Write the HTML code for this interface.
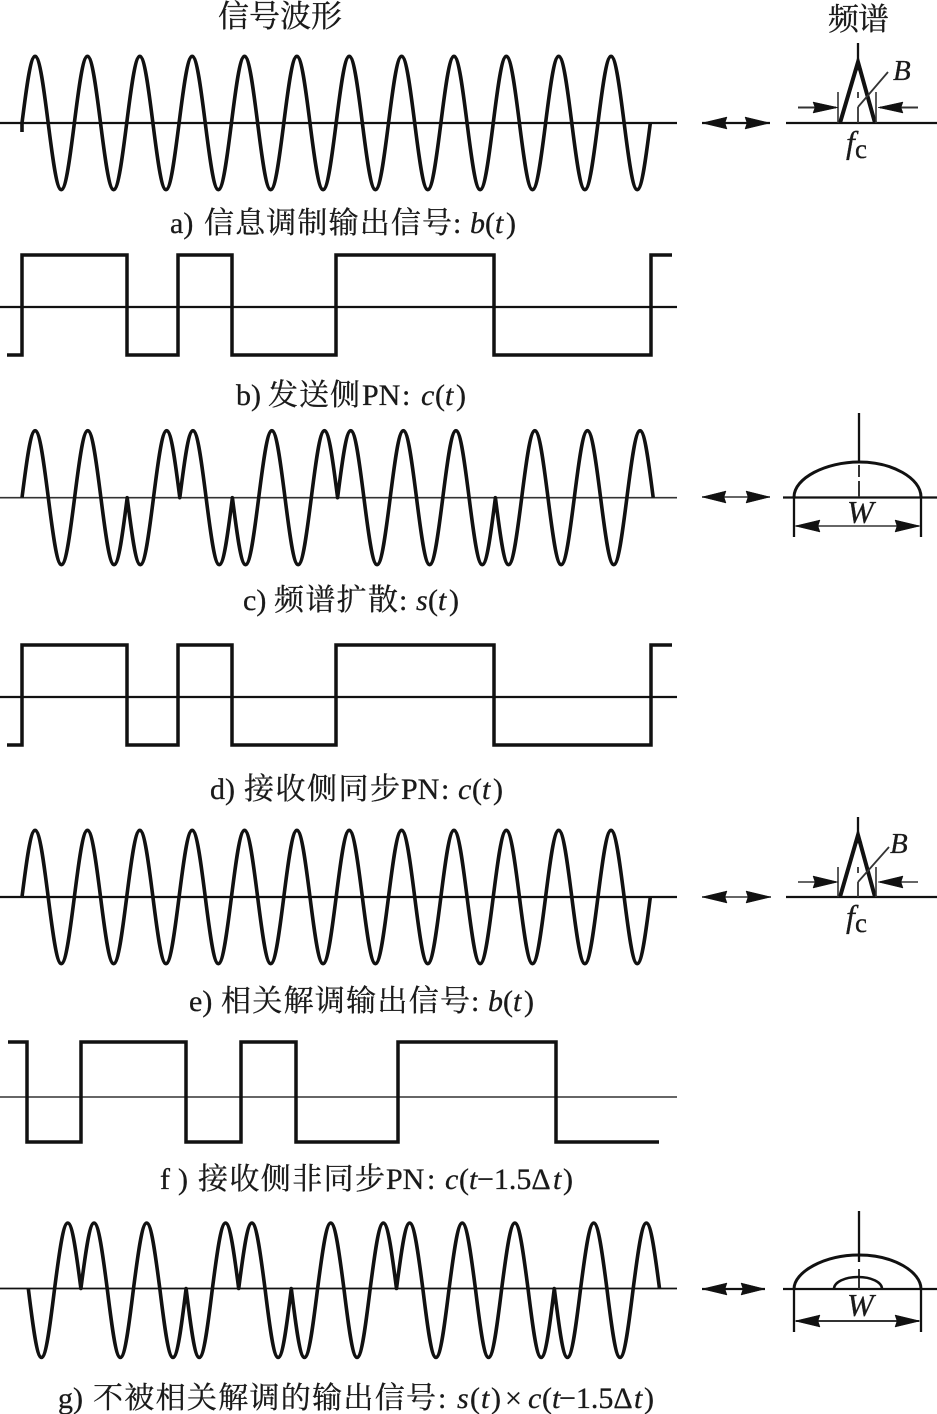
<!DOCTYPE html>
<html><head><meta charset="utf-8"><style>
html,body{margin:0;padding:0;background:#fff}
svg{display:block}
text{font-family:"Liberation Serif","Noto Serif CJK SC",serif;font-size:30px;fill:#1a1a1a;stroke:#1a1a1a;stroke-width:.3}
.i{font-style:italic}
.w{fill:none;stroke:#111;stroke-width:3.6;stroke-linejoin:round}
.s{fill:none;stroke:#111;stroke-width:3.5;stroke-linejoin:miter}
.ax{stroke:#111;stroke-width:2.3;fill:none}
.th{stroke:#333;stroke-width:1.6;fill:none}
.sp{fill:none;stroke:#111;stroke-width:4}
polygon{fill:#111;stroke:#111;stroke-width:.5}
</style></head><body>
<svg width="937" height="1414" viewBox="0 0 937 1414" xmlns="http://www.w3.org/2000/svg">
<rect width="937" height="1414" fill="#fff"/>

<!-- titles -->
<text x="218" y="27" textLength="124" style="font-size:31px">信号波形</text>
<text x="828" y="30" textLength="61" style="font-size:31px">频谱</text>

<!-- a -->
<line class="ax" x1="0" y1="123" x2="677" y2="123"/>
<path class="w" d="M22 132V123
c4.3-34.2 8.4-66.7 13.09-66.7s8.79 32.5 13.09 66.7c4.3 34.2 8.4 66.7 13.09 66.7s8.79-32.5 13.09-66.7
c4.3-34.2 8.4-66.7 13.09-66.7s8.79 32.5 13.09 66.7c4.3 34.2 8.4 66.7 13.09 66.7s8.79-32.5 13.09-66.7
c4.3-34.2 8.4-66.7 13.09-66.7s8.79 32.5 13.09 66.7c4.3 34.2 8.4 66.7 13.09 66.7s8.79-32.5 13.09-66.7
c4.3-34.2 8.4-66.7 13.09-66.7s8.79 32.5 13.09 66.7c4.3 34.2 8.4 66.7 13.09 66.7s8.79-32.5 13.09-66.7
c4.3-34.2 8.4-66.7 13.09-66.7s8.79 32.5 13.09 66.7c4.3 34.2 8.4 66.7 13.09 66.7s8.79-32.5 13.09-66.7
c4.3-34.2 8.4-66.7 13.09-66.7s8.79 32.5 13.09 66.7c4.3 34.2 8.4 66.7 13.09 66.7s8.79-32.5 13.09-66.7
c4.3-34.2 8.4-66.7 13.09-66.7s8.79 32.5 13.09 66.7c4.3 34.2 8.4 66.7 13.09 66.7s8.79-32.5 13.09-66.7
c4.3-34.2 8.4-66.7 13.09-66.7s8.79 32.5 13.09 66.7c4.3 34.2 8.4 66.7 13.09 66.7s8.79-32.5 13.09-66.7
c4.3-34.2 8.4-66.7 13.09-66.7s8.79 32.5 13.09 66.7c4.3 34.2 8.4 66.7 13.09 66.7s8.79-32.5 13.09-66.7
c4.3-34.2 8.4-66.7 13.09-66.7s8.79 32.5 13.09 66.7c4.3 34.2 8.4 66.7 13.09 66.7s8.79-32.5 13.09-66.7
c4.3-34.2 8.4-66.7 13.09-66.7s8.79 32.5 13.09 66.7c4.3 34.2 8.4 66.7 13.09 66.7s8.79-32.5 13.09-66.7
c4.3-34.2 8.4-66.7 13.09-66.7s8.79 32.5 13.09 66.7c4.3 34.2 8.4 66.7 13.09 66.7s8.79-32.5 13.09-66.7"/>
<text x="170" y="233">a)</text>
<text x="204" y="233" textLength="248">信息调制输出信号</text>
<text x="453" y="233">:</text>
<text x="470" y="233" class="i">b</text><text x="485" y="233">(</text><text x="495" y="233" class="i">t</text><text x="506" y="233">)</text>

<!-- b -->
<line class="ax" x1="0" y1="307" x2="677" y2="307"/>
<path class="s" d="M7 355H22V255H127V355H178V255H232V355H336V255H494V355H651V255H672"/>
<text x="236" y="405">b)</text>
<text x="268" y="405" textLength="92">发送侧</text>
<text x="362" y="405">PN</text>
<text x="402" y="405">:</text>
<text x="421" y="405" class="i">c</text><text x="435" y="405">(</text><text x="445" y="405" class="i">t</text><text x="456" y="405">)</text>

<!-- c -->
<line class="th" x1="0" y1="497.7" x2="677" y2="497.7"/>
<path class="w" d="M22 497.7
c4.3-34 8.4-67 13.15-67s8.85 33 13.15 67c4.3 34 8.4 67 13.15 67s8.85-33 13.15-67
c4.3-34 8.4-67 13.15-67s8.85 33 13.15 67c4.3 34 8.4 67 13.15 67s8.85-33 13.15-67
c4.3 34 8.4 67 13.15 67s8.85-33 13.15-67c4.3-34 8.4-67 13.15-67s8.85 33 13.15 67
c4.3-34 8.4-67 13.15-67s8.85 33 13.15 67c4.3 34 8.4 67 13.15 67s8.85-33 13.15-67
c4.3 34 8.4 67 13.15 67s8.85-33 13.15-67c4.3-34 8.4-67 13.15-67s8.85 33 13.15 67
c4.3 34 8.4 67 13.15 67s8.85-33 13.15-67c4.3-34 8.4-67 13.15-67s8.85 33 13.15 67
c4.3-34 8.4-67 13.15-67s8.85 33 13.15 67c4.3 34 8.4 67 13.15 67s8.85-33 13.15-67
c4.3-34 8.4-67 13.15-67s8.85 33 13.15 67c4.3 34 8.4 67 13.15 67s8.85-33 13.15-67
c4.3-34 8.4-67 13.15-67s8.85 33 13.15 67c4.3 34 8.4 67 13.15 67s8.85-33 13.15-67
c4.3 34 8.4 67 13.15 67s8.85-33 13.15-67c4.3-34 8.4-67 13.15-67s8.85 33 13.15 67
c4.3 34 8.4 67 13.15 67s8.85-33 13.15-67c4.3-34 8.4-67 13.15-67s8.85 33 13.15 67
c4.3 34 8.4 67 13.15 67s8.85-33 13.15-67c4.3-34 8.4-67 13.15-67s8.85 33 13.15 67"/>
<text x="243" y="610">c)</text>
<text x="274" y="610" textLength="124">频谱扩散</text>
<text x="399" y="610">:</text>
<text x="416" y="610" class="i">s</text><text x="428" y="610">(</text><text x="438" y="610" class="i">t</text><text x="449" y="610">)</text>

<!-- d -->
<line class="ax" x1="0" y1="697" x2="677" y2="697"/>
<path class="s" d="M7 745H22V645H127V745H178V645H232V745H336V645H494V745H651V645H672"/>
<text x="210" y="799">d)</text>
<text x="244" y="799" textLength="156">接收侧同步</text>
<text x="401" y="799">PN</text>
<text x="441" y="799">:</text>
<text x="458" y="799" class="i">c</text><text x="472" y="799">(</text><text x="482" y="799" class="i">t</text><text x="493" y="799">)</text>

<!-- e -->
<line class="ax" x1="0" y1="897" x2="677" y2="897"/>
<path class="w" d="M22 897
c4.3-34.2 8.4-66.7 13.09-66.7s8.79 32.5 13.09 66.7c4.3 34.2 8.4 66.7 13.09 66.7s8.79-32.5 13.09-66.7
c4.3-34.2 8.4-66.7 13.09-66.7s8.79 32.5 13.09 66.7c4.3 34.2 8.4 66.7 13.09 66.7s8.79-32.5 13.09-66.7
c4.3-34.2 8.4-66.7 13.09-66.7s8.79 32.5 13.09 66.7c4.3 34.2 8.4 66.7 13.09 66.7s8.79-32.5 13.09-66.7
c4.3-34.2 8.4-66.7 13.09-66.7s8.79 32.5 13.09 66.7c4.3 34.2 8.4 66.7 13.09 66.7s8.79-32.5 13.09-66.7
c4.3-34.2 8.4-66.7 13.09-66.7s8.79 32.5 13.09 66.7c4.3 34.2 8.4 66.7 13.09 66.7s8.79-32.5 13.09-66.7
c4.3-34.2 8.4-66.7 13.09-66.7s8.79 32.5 13.09 66.7c4.3 34.2 8.4 66.7 13.09 66.7s8.79-32.5 13.09-66.7
c4.3-34.2 8.4-66.7 13.09-66.7s8.79 32.5 13.09 66.7c4.3 34.2 8.4 66.7 13.09 66.7s8.79-32.5 13.09-66.7
c4.3-34.2 8.4-66.7 13.09-66.7s8.79 32.5 13.09 66.7c4.3 34.2 8.4 66.7 13.09 66.7s8.79-32.5 13.09-66.7
c4.3-34.2 8.4-66.7 13.09-66.7s8.79 32.5 13.09 66.7c4.3 34.2 8.4 66.7 13.09 66.7s8.79-32.5 13.09-66.7
c4.3-34.2 8.4-66.7 13.09-66.7s8.79 32.5 13.09 66.7c4.3 34.2 8.4 66.7 13.09 66.7s8.79-32.5 13.09-66.7
c4.3-34.2 8.4-66.7 13.09-66.7s8.79 32.5 13.09 66.7c4.3 34.2 8.4 66.7 13.09 66.7s8.79-32.5 13.09-66.7
c4.3-34.2 8.4-66.7 13.09-66.7s8.79 32.5 13.09 66.7c4.3 34.2 8.4 66.7 13.09 66.7s8.79-32.5 13.09-66.7"/>
<text x="189" y="1011">e)</text>
<text x="221" y="1011" textLength="249">相关解调输出信号</text>
<text x="471" y="1011">:</text>
<text x="488" y="1011" class="i">b</text><text x="503" y="1011">(</text><text x="513" y="1011" class="i">t</text><text x="524" y="1011">)</text>

<!-- f -->
<line class="th" x1="0" y1="1097" x2="677" y2="1097"/>
<path class="s" d="M8 1042H27V1142H81V1042H186V1142H241V1042H296V1142H398V1042H556V1142H659"/>
<text x="160" y="1189">f</text><text x="178" y="1189">)</text>
<text x="198" y="1189" textLength="187">接收侧非同步</text>
<text x="386" y="1189">PN</text>
<text x="427" y="1189">:</text>
<text x="445" y="1189" class="i">c</text><text x="459" y="1189">(</text><text x="469" y="1189" class="i">t</text><text x="477" y="1189">−1.5Δ</text><text x="553" y="1189" class="i">t</text><text x="563" y="1189">)</text>

<!-- g -->
<line class="ax" x1="0" y1="1288.5" x2="677" y2="1288.5" style="stroke-width:1.8"/>
<path class="w" d="M28.3 1288.5
c4.3 35 8.4 69 13.15 69s8.85-34 13.15-69
c4.3-33 8.4-65.5 13.15-65.5s8.85 32.5 13.15 65.5
c4.3-33 8.4-65.5 13.15-65.5s8.85 32.5 13.15 65.5
c4.3 35 8.4 69 13.15 69s8.85-34 13.15-69
c4.3-33 8.4-65.5 13.15-65.5s8.85 32.5 13.15 65.5
c4.3 35 8.4 69 13.15 69s8.85-34 13.15-69
c4.3 35 8.4 69 13.15 69s8.85-34 13.15-69
c4.3-33 8.4-65.5 13.15-65.5s8.85 32.5 13.15 65.5
c4.3-33 8.4-65.5 13.15-65.5s8.85 32.5 13.15 65.5
c4.3 35 8.4 69 13.15 69s8.85-34 13.15-69
c4.3 35 8.4 69 13.15 69s8.85-34 13.15-69
c4.3-33 8.4-65.5 13.15-65.5s8.85 32.5 13.15 65.5
c4.3 35 8.4 69 13.15 69s8.85-34 13.15-69
c4.3-33 8.4-65.5 13.15-65.5s8.85 32.5 13.15 65.5
c4.3-33 8.4-65.5 13.15-65.5s8.85 32.5 13.15 65.5
c4.3 35 8.4 69 13.15 69s8.85-34 13.15-69
c4.3-33 8.4-65.5 13.15-65.5s8.85 32.5 13.15 65.5
c4.3 35 8.4 69 13.15 69s8.85-34 13.15-69
c4.3-33 8.4-65.5 13.15-65.5s8.85 32.5 13.15 65.5
c4.3 35 8.4 69 13.15 69s8.85-34 13.15-69
c4.3 35 8.4 69 13.15 69s8.85-34 13.15-69
c4.3-33 8.4-65.5 13.15-65.5s8.85 32.5 13.15 65.5
c4.3 35 8.4 69 13.15 69s8.85-34 13.15-69
c4.3-33 8.4-65.5 13.15-65.5s8.85 32.5 13.15 65.5"/>
<text x="58" y="1408">g)</text>
<text x="93" y="1408" textLength="343">不被相关解调的输出信号</text>
<text x="438" y="1408">:</text>
<text x="457" y="1408" class="i">s</text><text x="470" y="1408">(</text><text x="481" y="1408" class="i">t</text><text x="491" y="1408">)</text><text x="505" y="1408">×</text>
<text x="528" y="1408" class="i">c</text><text x="542" y="1408">(</text><text x="552" y="1408" class="i">t</text><text x="559" y="1408">−1.5Δ</text><text x="634" y="1408" class="i">t</text><text x="644" y="1408">)</text>

<!-- double arrows -->
<line class="ax" x1="702" y1="123" x2="770" y2="123"/>
<polygon points="702,123 727,117 725,123 727,129"/><polygon points="770,123 745,117 747,123 745,129"/>
<line class="th" x1="702" y1="497" x2="770" y2="497"/>
<polygon points="702,497 726,491 724,497 726,503"/><polygon points="770,497 746,491 748,497 746,503"/>
<line class="th" x1="702" y1="897" x2="771" y2="897"/>
<polygon points="702,897 727,891 725,897 727,903"/><polygon points="771,897 746,891 748,897 746,903"/>
<line class="ax" x1="702" y1="1289" x2="765" y2="1289"/>
<polygon points="702,1289 727,1283 725,1289 727,1295"/><polygon points="765,1289 741,1283 743,1289 741,1295"/>

<!-- spectrum a -->
<line class="ax" x1="786" y1="123" x2="937" y2="123"/>
<line class="ax" x1="858" y1="43" x2="858" y2="64"/>
<path class="sp" d="M840 123L858 62L875 123"/>
<polygon points="858,59 854,70 862,70"/>
<path class="th" d="M838 92V123M876 92V123"/>
<path class="th" d="M858 92V98M858 107V123M858 107L888 72" style="stroke-width:1.8"/>
<line class="th" x1="798" y1="107.5" x2="836" y2="107.5" style="stroke-width:2"/>
<polygon points="838,107.5 813,102 815,107.5 813,113"/>
<line class="th" x1="880" y1="107.5" x2="918" y2="107.5" style="stroke-width:2"/>
<polygon points="878,107.5 903,102 901,107.5 903,113"/>
<text x="893" y="80" class="i" style="font-size:29px">B</text>
<text x="846" y="153" class="i" style="font-size:32px">f</text><text x="855" y="158" style="font-size:27px">c</text>

<!-- spectrum c -->
<line class="ax" x1="783" y1="497.5" x2="937" y2="497.5"/>
<line class="ax" x1="859" y1="413" x2="859" y2="463"/>
<path class="th" d="M859 465V477M859 481V497" style="stroke-width:2"/>
<path class="ax" style="stroke-width:3" d="M794 497C794 478 826 462 859 462C892 462 921 478 921 497"/>
<path class="ax" d="M794 497V537M921 497V537"/>
<line class="th" x1="796" y1="526" x2="919" y2="526"/>
<polygon points="795,526 820,520 818,526 820,532"/><polygon points="920,526 895,520 897,526 895,532"/>
<text x="847" y="523" class="i" style="font-size:32px">W</text>

<!-- spectrum e -->
<line class="ax" x1="786" y1="897" x2="937" y2="897"/>
<line class="ax" x1="858" y1="817" x2="858" y2="838"/>
<path class="sp" d="M840 897L858 835L875 897"/>
<polygon points="858,832 854,843 862,843"/>
<path class="th" d="M838 867V897M876 867V897"/>
<path class="th" d="M858 867V873M858 882V897M858 882L889 847" style="stroke-width:1.8"/>
<line class="th" x1="798" y1="882" x2="836" y2="882"/>
<polygon points="838,882 813,876 815,882 813,888"/>
<line class="th" x1="880" y1="882" x2="918" y2="882"/>
<polygon points="878,882 903,876 901,882 903,888"/>
<text x="890" y="853" class="i" style="font-size:29px">B</text>
<text x="846" y="927" class="i" style="font-size:32px">f</text><text x="855" y="932" style="font-size:27px">c</text>

<!-- spectrum g -->
<line class="ax" x1="783" y1="1289" x2="937" y2="1289"/>
<line class="ax" x1="859" y1="1211" x2="859" y2="1262"/>
<path class="th" d="M859 1269V1289" style="stroke-width:2"/>
<path class="ax" style="stroke-width:3" d="M794 1289C794 1272 824 1255 859 1255C894 1255 921 1272 921 1289"/>
<path class="ax" style="stroke-width:2.6" d="M834 1289C834 1282 845 1277 858 1277C871 1277 882 1282 882 1289"/>
<path class="ax" d="M794 1289V1332M921 1289V1332"/>
<line class="th" x1="796" y1="1321" x2="919" y2="1321" style="stroke-width:2"/>
<polygon points="795,1321 820,1315 818,1321 820,1327"/><polygon points="920,1321 895,1315 897,1321 895,1327"/>
<text x="847" y="1316" class="i" style="font-size:32px">W</text>
</svg>
</body></html>
